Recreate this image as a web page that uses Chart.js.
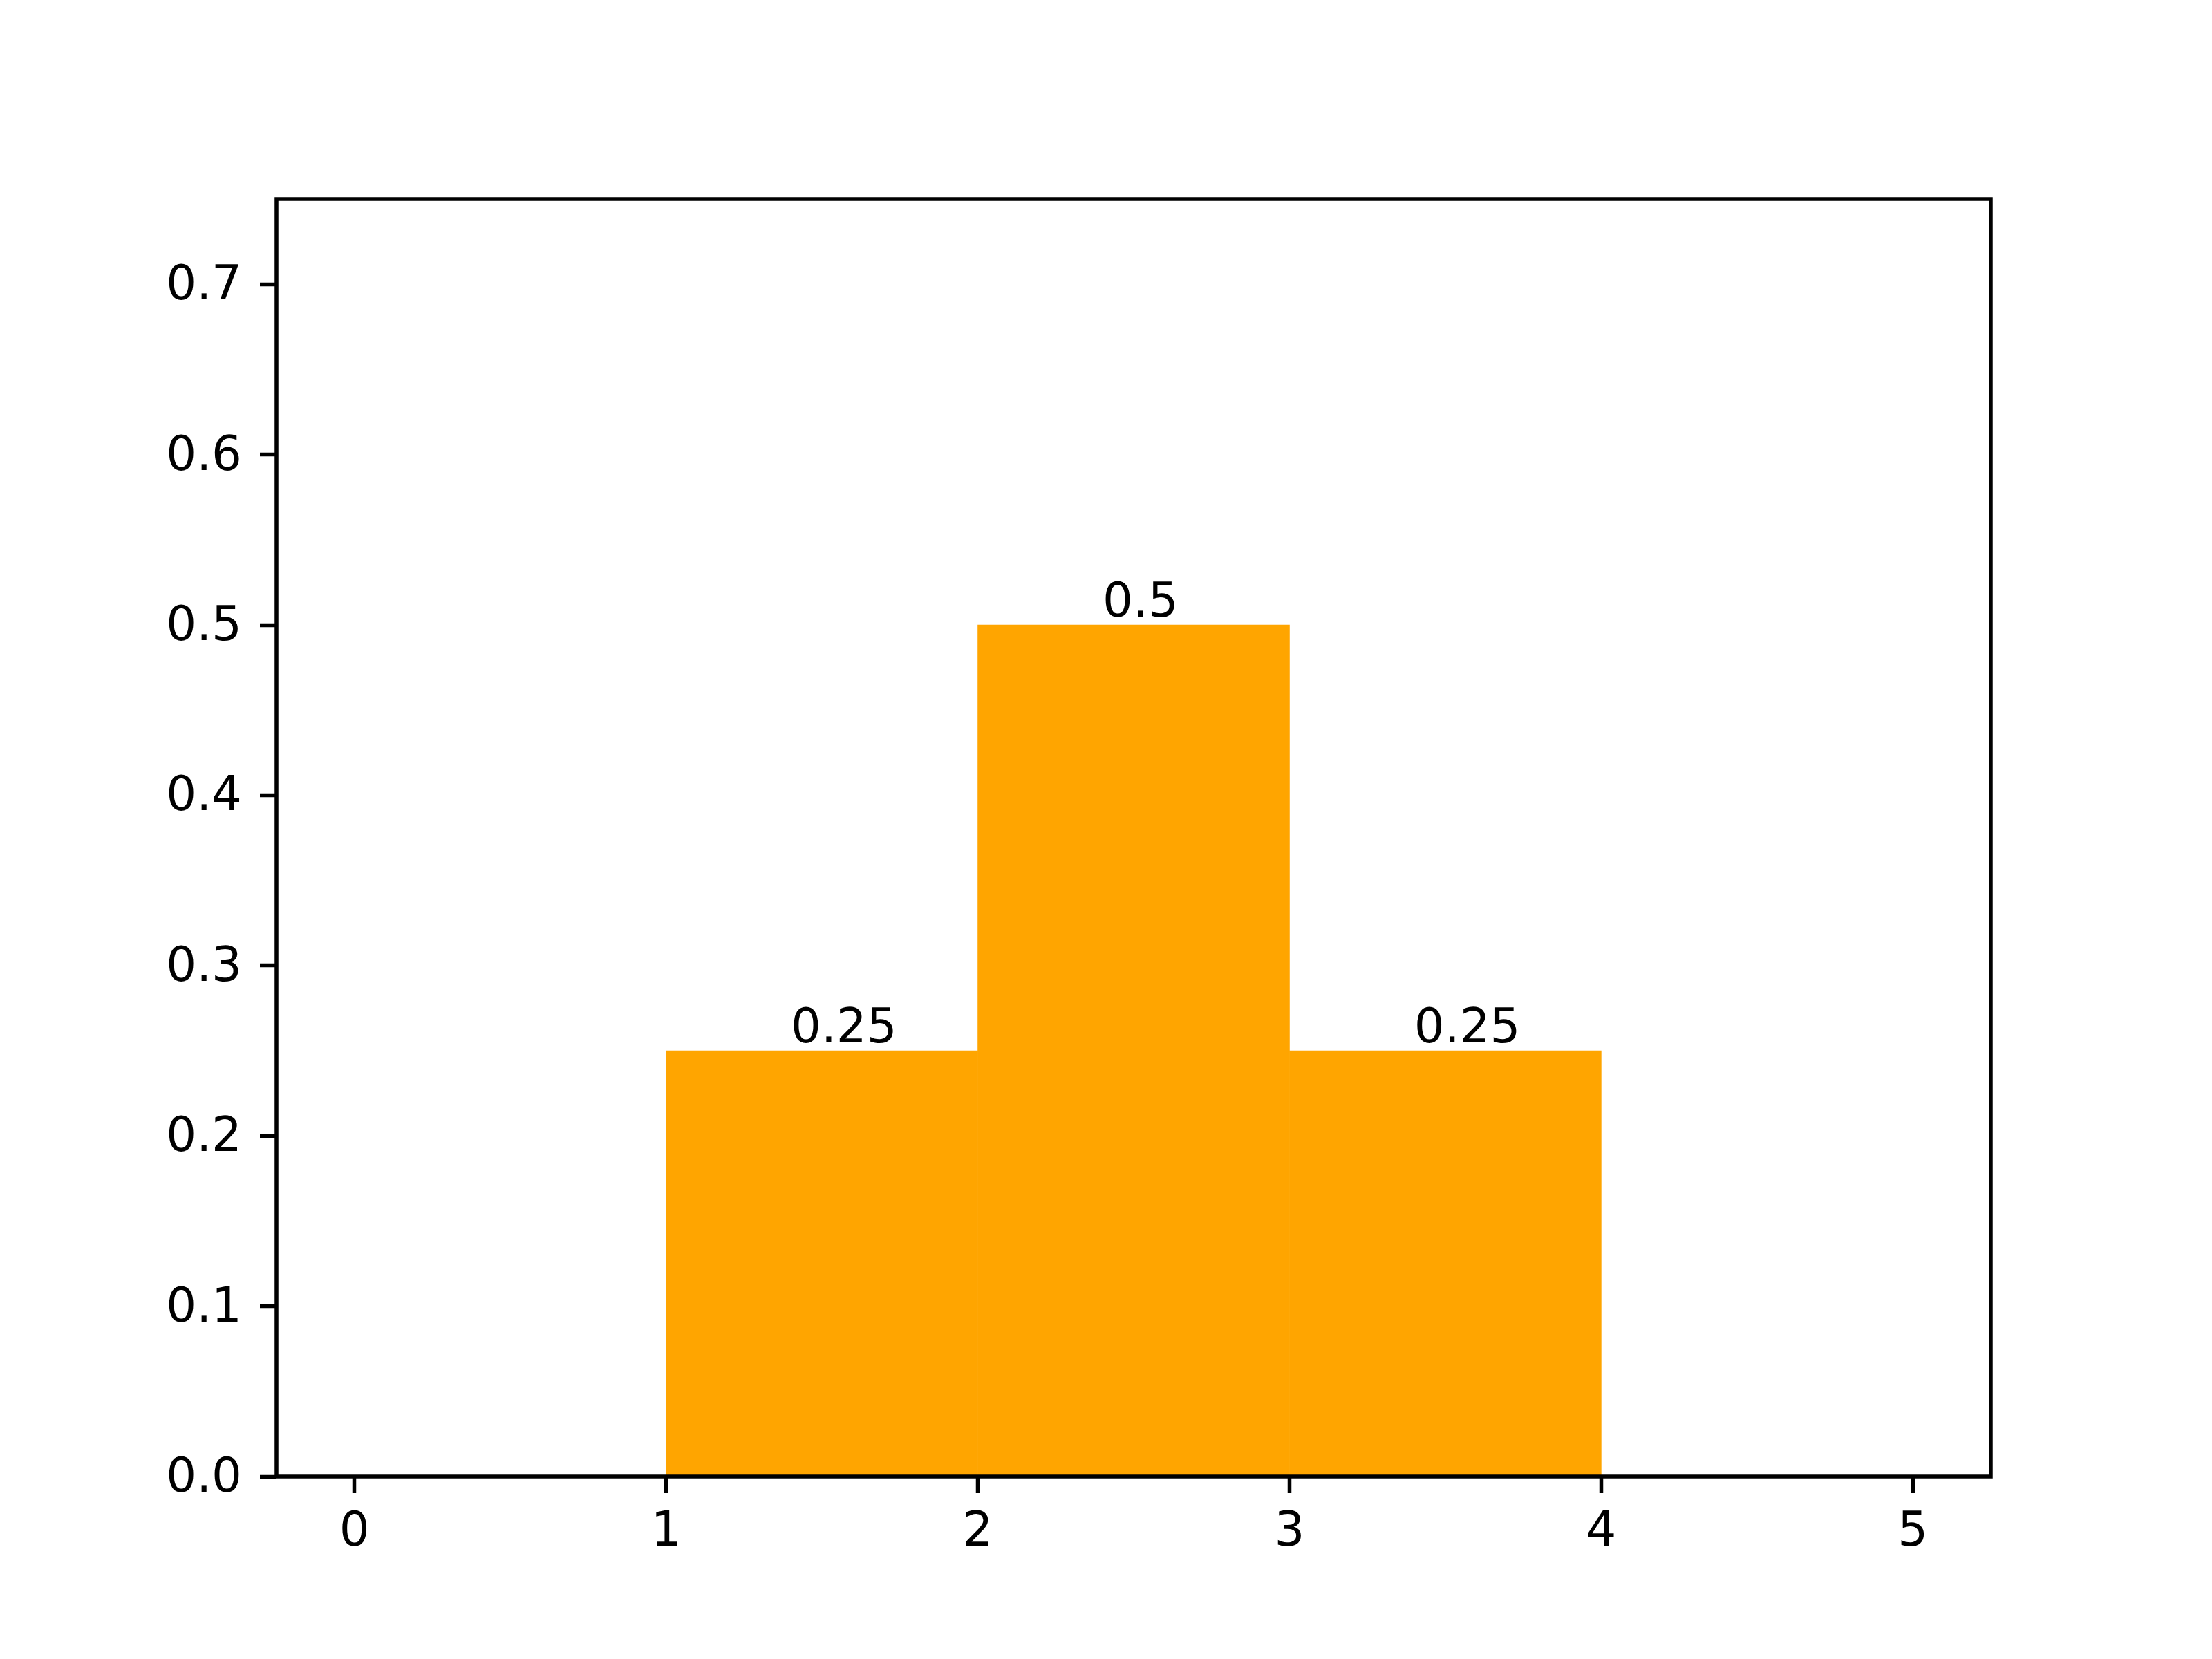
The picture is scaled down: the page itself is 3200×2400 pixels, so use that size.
<!DOCTYPE html>
<html>
<head>
<meta charset="utf-8">
<script src="https://cdn.jsdelivr.net/npm/chart.js@4/dist/chart.umd.min.js"></script>
<style>
  html, body { margin: 0; padding: 0; background: #ffffff; }
  canvas { display: block; }
</style>
</head>
<body>
<canvas id="histChart" width="3200" height="2400"></canvas>
<script>
// histogram bins (centre of each unit-wide bin) and their heights
const binCenters = [1.5, 2.5, 3.5];
const binValues  = [0.25, 0.5, 0.25];

// text placed above the bars, left-aligned at these x values
const barLabels = ['0.25', '0.5', '0.25'];
const labelX    = [1.4, 2.4, 3.4];

const xTicks = [0, 1, 2, 3, 4, 5];
const yTicks = [0, 0.1, 0.2, 0.3, 0.4, 0.5, 0.6, 0.7];
const xRange = [-0.25, 5.25];
const yRange = [0, 0.75];

const FONT = 'DejaVu Sans';
const LINE = 5.5;

const frameAndLabels = {
    id: 'frameAndLabels',
    afterDatasetsDraw(chart) {
        const ctx = chart.ctx;
        const area = chart.chartArea;
        const xs = chart.scales.x;
        const bars = chart.getDatasetMeta(0).data;

        ctx.save();
        ctx.fillStyle = '#000000';
        ctx.font = '69px "' + FONT + '"';
        ctx.textAlign = 'left';
        ctx.textBaseline = 'alphabetic';
        bars.forEach((bar, i) => {
            ctx.fillText(barLabels[i], xs.getPixelForValue(labelX[i]), bar.y - 12);
        });

        ctx.strokeStyle = '#000000';
        ctx.lineWidth = LINE;
        ctx.strokeRect(area.left, area.top, area.right - area.left, area.bottom - area.top);
        ctx.restore();
    }
};

new Chart(document.getElementById('histChart'), {
    type: 'bar',
    data: {
        datasets: [{
            data: binCenters.map((c, i) => ({ x: c, y: binValues[i] })),
            backgroundColor: '#FFA500',
            borderWidth: 0,
            barPercentage: 1,
            categoryPercentage: 1
        }]
    },
    options: {
        responsive: false,
        animation: false,
        devicePixelRatio: 1,
        layout: { padding: { top: 288, right: 320, left: 0, bottom: 0 } },
        plugins: {
            legend: { display: false },
            tooltip: { enabled: false }
        },
        scales: {
            x: {
                type: 'linear',
                min: xRange[0],
                max: xRange[1],
                offset: false,
                afterBuildTicks: scale => { scale.ticks = xTicks.map(v => ({ value: v })); },
                afterFit: scale => { scale.height = 264; },
                grid: {
                    offset: false,
                    drawOnChartArea: false,
                    drawTicks: true,
                    tickLength: 24,
                    tickWidth: LINE,
                    tickColor: '#000000'
                },
                border: { display: false },
                ticks: {
                    color: '#000000',
                    font: { family: FONT, size: 69 },
                    padding: 17,
                    maxRotation: 0,
                    autoSkip: false,
                    callback: v => String(v)
                }
            },
            y: {
                min: yRange[0],
                max: yRange[1],
                afterBuildTicks: scale => { scale.ticks = yTicks.map(v => ({ value: v })); },
                afterFit: scale => { scale.width = 400; },
                grid: {
                    drawOnChartArea: false,
                    drawTicks: true,
                    tickLength: 24,
                    tickWidth: LINE,
                    tickColor: '#000000'
                },
                border: { display: false },
                ticks: {
                    color: '#000000',
                    font: { family: FONT, size: 69 },
                    padding: 26,
                    labelOffset: 4,
                    autoSkip: false,
                    callback: v => v.toFixed(1)
                }
            }
        }
    },
    plugins: [frameAndLabels]
});
</script>
</body>
</html>
